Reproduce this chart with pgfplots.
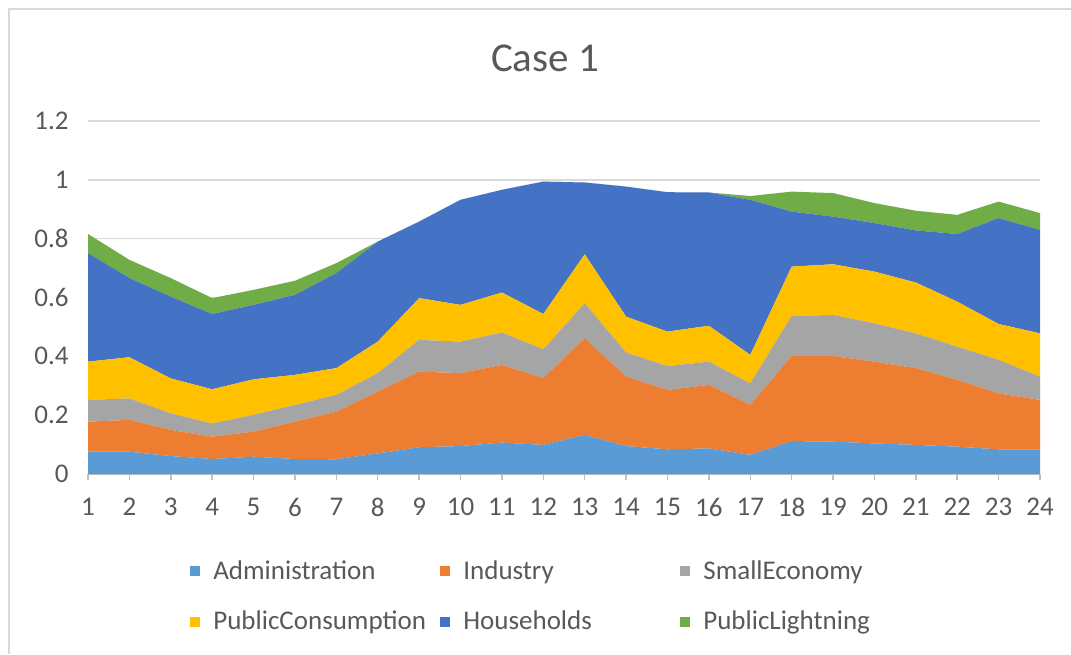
\documentclass[border=0pt]{standalone}
\usepackage{pgfplots}
\pgfplotsset{compat=1.18}
\usepackage{pgfplotstable}
\usepackage{fontspec}
\setmainfont{Carlito}

\definecolor{cAdm}{HTML}{5B9BD5}
\definecolor{cInd}{HTML}{ED7D31}
\definecolor{cSE}{HTML}{A5A5A5}
\definecolor{cPC}{HTML}{FFC000}
\definecolor{cHH}{HTML}{4472C4}
\definecolor{cPL}{HTML}{70AD47}
\definecolor{cText}{HTML}{595959}
\definecolor{cGrid}{HTML}{D9D9D9}
\definecolor{cAxis}{HTML}{BFBFBF}

% hourly load shares per consumer group
\pgfplotstableread{
h   adm   ind   se    pc    hh    pl
1   0.076 0.102 0.074 0.130 0.369 0.065
2   0.076 0.108 0.073 0.140 0.269 0.062
3   0.061 0.089 0.056 0.119 0.278 0.063
4   0.051 0.076 0.045 0.116 0.256 0.054
5   0.059 0.085 0.057 0.121 0.253 0.051
6   0.051 0.127 0.057 0.102 0.272 0.048
7   0.050 0.162 0.057 0.091 0.323 0.034
8   0.070 0.210 0.063 0.107 0.340 0.000
9   0.091 0.257 0.108 0.142 0.260 0.000
10  0.095 0.248 0.107 0.125 0.357 0.000
11  0.107 0.264 0.110 0.136 0.349 0.000
12  0.099 0.227 0.098 0.120 0.450 0.000
13  0.133 0.328 0.119 0.167 0.244 0.000
14  0.095 0.236 0.082 0.122 0.442 0.000
15  0.084 0.202 0.081 0.117 0.474 0.000
16  0.087 0.216 0.079 0.122 0.453 0.000
17  0.065 0.170 0.073 0.097 0.527 0.013
18  0.112 0.289 0.136 0.168 0.187 0.068
19  0.110 0.291 0.140 0.172 0.162 0.080
20  0.104 0.278 0.130 0.176 0.165 0.068
21  0.099 0.261 0.118 0.173 0.177 0.067
22  0.093 0.227 0.113 0.153 0.230 0.065
23  0.084 0.190 0.114 0.122 0.360 0.056
24  0.084 0.168 0.079 0.147 0.352 0.057
}\loaddata

\newcommand{\lblfont}{\fontsize{13.5}{16}\selectfont}
% fixed-width legend cells so the three columns line up
\newcommand{\cellA}[1]{\makebox[113.5pt][l]{#1}}
\newcommand{\cellB}[1]{\makebox[108.5pt][l]{#1}}

\begin{document}
\begin{tikzpicture}[x=0.5pt,y=-0.5pt]
\path[use as bounding box] (0,0) rectangle (1071,654);
\fill[white] (0,0) rectangle (1071,654);
\draw[cGrid, line width=1pt] (8.5,654) -- (8.5,8.5) -- (1071,8.5);
\node[text=cText, font=\fontsize{20.5}{24}\selectfont] at (545,58) {Case 1};
\begin{axis}[
  at={(44pt,-237pt)}, anchor=south west,
  width=476pt, height=176.5pt, scale only axis,
  xmin=1, xmax=24, ymin=0, ymax=1.2,
  stack plots=y,
  axis x line*=bottom, axis y line*=left,
  x axis line style={cAxis, line width=0.75pt},
  y axis line style={draw=none},
  xtick={1,...,24},
  xticklabels={1,2,3,4,5,6,7,8,9,10,11,12,13,14,15,16,17,18,19,20,21,22,23,24},
  ytick={0,0.2,0.4,0.6,0.8,1,1.2},
  yticklabels={0,0.2,0.4,0.6,0.8,1,1.2},
  tick align=outside,
  major tick length=3pt,
  xtick style={cAxis, line width=0.75pt},
  ytick style={draw=none},
  ymajorgrids,
  grid style={cGrid, line width=0.75pt},
  /pgf/number format/assume math mode=true,
  ticklabel style={font=\lblfont, text=cText},
  xticklabel style={inner sep=0pt, yshift=-9pt},
  yticklabel style={inner sep=0pt, xshift=-6.5pt},
  legend columns=3,
  legend cell align=left,
  legend style={at={(0.1071,-0.2436)}, anchor=north west,
    draw=none, fill=none, inner sep=0pt,
    font=\lblfont, text=cText,
    nodes={inner sep=0pt},
    row sep=14.5pt,
    /tikz/every odd column/.append style={column sep=6.5pt}},
  legend image code/.code={\fill[#1] (0pt,-2.5pt) rectangle (5pt,2.5pt);},
]
\addplot[fill=cAdm, draw=none] table[x=h, y=adm] {\loaddata} \closedcycle;
\addplot[fill=cInd, draw=none] table[x=h, y=ind] {\loaddata} \closedcycle;
\addplot[fill=cSE,  draw=none] table[x=h, y=se]  {\loaddata} \closedcycle;
\addplot[fill=cPC,  draw=none] table[x=h, y=pc]  {\loaddata} \closedcycle;
\addplot[fill=cHH,  draw=none] table[x=h, y=hh]  {\loaddata} \closedcycle;
\addplot[fill=cPL,  draw=none] table[x=h, y=pl]  {\loaddata} \closedcycle;
\legend{\cellA{Administration}, \cellB{Industry}, SmallEconomy,
        \cellA{PublicConsumption}, \cellB{Households}, PublicLightning}
\end{axis}
\end{tikzpicture}
\end{document}
